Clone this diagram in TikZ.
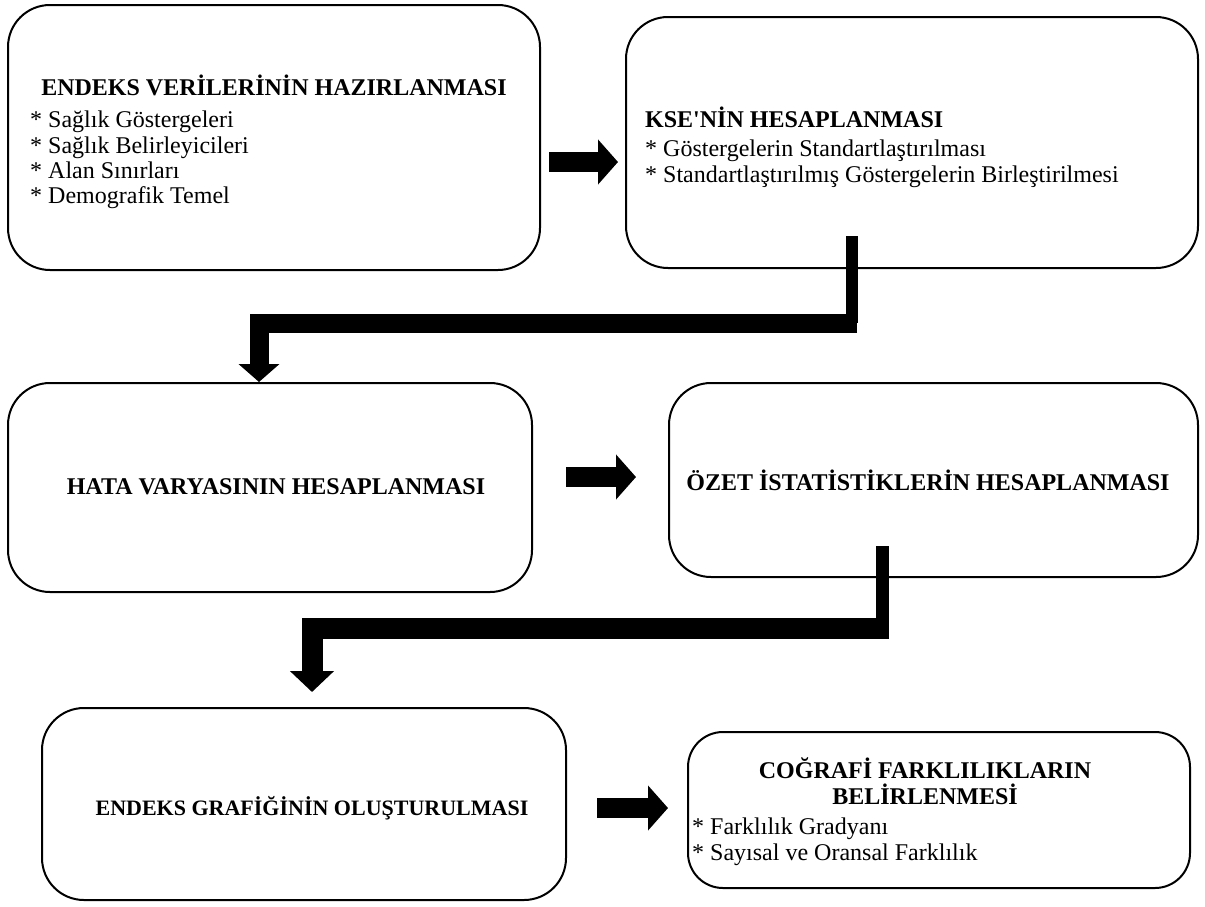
\documentclass[tikz,border=0pt]{standalone}
\usepackage{fontspec}
\setmainfont{Liberation Serif}
\newfontfamily\aposfont{Liberation Serif}
\usetikzlibrary{arrows.meta}

\begin{document}
\begin{tikzpicture}[x=1pt,y=-1pt,
  box/.style={draw, line width=2pt, rounded corners=42pt, inner sep=0pt},
  ttl/.style={font=\fontsize{24}{26}\selectfont\bfseries, inner sep=0pt, align=center},
  itm/.style={font=\fontsize{24}{25.3}\selectfont, inner sep=0pt, align=left, anchor=north west},
  blk/.style={-{Triangle[width=44pt,length=20pt]}, line width=20pt},
  pipe/.style={line width=#1}]
\useasboundingbox (0,0) rectangle (1205,906);
\node[box, minimum width=532pt, minimum height=265pt] (A) at (274,137.5) {};
\node[box, minimum width=572pt, minimum height=251pt] (B) at (912,142.5) {};
\node[box, minimum width=524pt, minimum height=209pt] (C) at (270,487.5) {};
\node[box, minimum width=529pt, minimum height=194pt] (D) at (933.5,480) {};
\node[box, minimum width=524pt, minimum height=192pt] (E) at (304,804) {};
\node[box, minimum width=502pt, minimum height=156pt, rounded corners=35pt] (F) at (939,810) {};
\node[ttl] (At) at (274,85) {ENDEKS VER\.{I}LER\.{I}N\.{I}N HAZIRLANMASI};
\node[itm] (Al) at (30,111) {* Sağlık Göstergeleri\\* Sağlık Belirleyicileri\\* Alan Sınırları\\* Demografik Temel};
\node[ttl, anchor=west] (Bt) at (645,117) {KSE{\aposfont'}N\.{I}N HESAPLANMASI};
\node[itm] (Bl) at (645,140) {* Göstergelerin Standartlaştırılması\\* Standartlaştırılmış Göstergelerin Birleştirilmesi};
\node[ttl] (Ct) at (276,487) {HATA VARYASININ HESAPLANMASI};
\node[ttl] (Dt) at (928,480) {ÖZET \.{I}STAT\.{I}ST\.{I}KLER\.{I}N HESAPLANMASI};
\node[ttl, font=\fontsize{22}{24}\selectfont\bfseries] (Et) at (312,808) {ENDEKS GRAF\.{I}Ğ\.{I}N\.{I}N OLUŞTURULMASI};
\node[ttl] (Ft) at (925,781) {COĞRAF\.{I} FARKLILIKLARIN\\BEL\.{I}RLENMES\.{I}};
\node[itm] (Fl) at (692,818) {* Farklılık Gradyanı\\* Sayısal ve Oransal Farklılık};
% corner points of the elbow connectors
\coordinate (k1) at (857,323.5);
\coordinate (k2) at (889,628.5);
\draw[blk, shorten <=8pt, shorten >=7pt] ([yshift=-24.5pt]A.east) -- ([yshift=-24.5pt]A.east -| B.west);
\draw[pipe=12pt] ([xshift=-60.5pt,yshift=33pt]B.south) -- ++(0,87);
\draw[pipe=19pt, -{Triangle[width=40pt,length=18pt]}] (k1) -| ([xshift=-11pt]C.north);
\draw[blk, shorten <=33pt, shorten >=32pt] ([yshift=10.5pt]C.east) -- ([yshift=10.5pt]C.east -| D.west);
\draw[pipe=13pt] ([xshift=-51pt,yshift=32pt]D.south) -- ++(0,85);
\draw[pipe=21pt, -{Triangle[width=43pt,length=21pt]}, shorten >=15pt] (k2) -| ([xshift=8pt]E.north);
\draw[blk, shorten <=30pt, shorten >=19pt] ([yshift=-4pt]E.east) -- ([yshift=-4pt]E.east -| F.west);
\end{tikzpicture}
\end{document}
